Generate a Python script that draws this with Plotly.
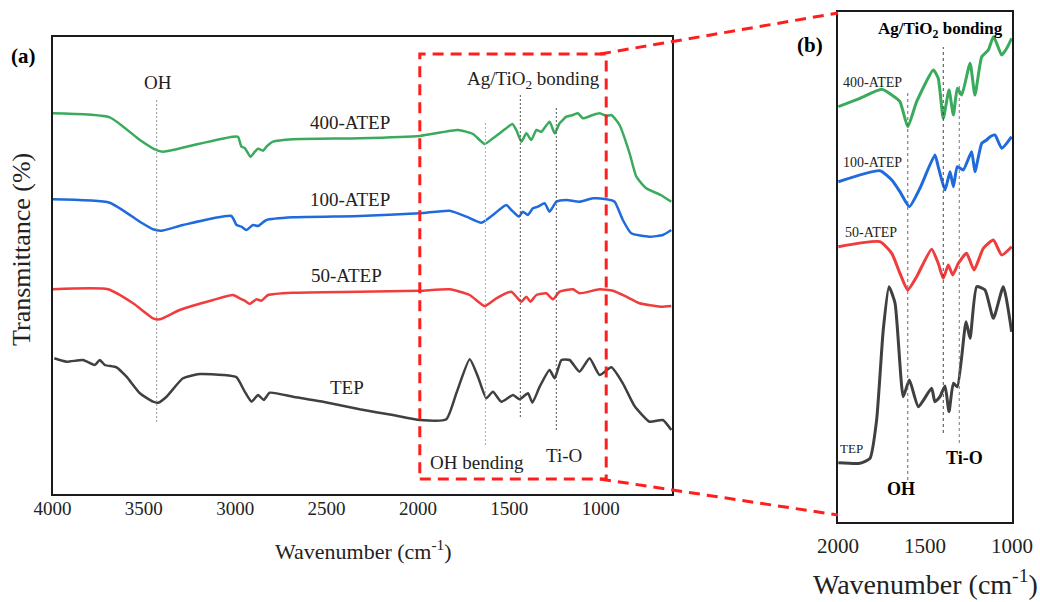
import plotly.graph_objects as go

# ---------------- Panel (a): full spectra (wavenumber, offset transmittance a.u.) -------------
a400_wn = [4000, 3687, 3522, 3440, 3395, 3340, 3267, 3012, 2985, 2966, 2948, 2917, 2893, 2875, 2848,
           2829, 2793, 2684, 2319, 1990, 1781, 1699, 1635, 1590, 1517, 1484, 1462, 1434, 1407, 1380,
           1352, 1325, 1280, 1252, 1225, 1188, 1152, 1125, 1097, 1043, 1006, 969, 942, 897, 842, 805,
           751, 672, 614]
a400_t = [380.7, 376.7, 354, 344.7, 342.3, 344, 347.3, 357.3, 357.3, 347.3, 346, 337.3, 342.3, 345.3,
          343.3, 347.3, 352.3, 354.7, 355.7, 358, 364, 360, 350, 355.7, 365.7, 370, 364, 352.3, 360.7,
          354, 364, 362.3, 372.3, 360.7, 370.7, 377.3, 379, 380.7, 375.7, 379, 380.7, 378, 379, 369,
          340.7, 317.3, 305.7, 299, 292.3]

a100_wn = [4000, 3687, 3522, 3450, 3404, 3286, 3021, 2993, 2966, 2939, 2903, 2875, 2829, 2684, 2319,
           1990, 1826, 1735, 1653, 1590, 1517, 1489, 1448, 1426, 1399, 1371, 1344, 1307, 1280, 1243,
           1188, 1116, 1043, 969, 924, 879, 833, 733, 660, 614]
a100_t = [294.7, 291.3, 272.3, 264.7, 263.3, 269, 278, 269, 267.3, 264, 269, 268, 274, 276.7, 278,
          280.7, 283.3, 277.3, 271.3, 279, 289, 284, 277.3, 282.3, 279, 285.7, 287.3, 290.7, 282.3,
          292.3, 294, 292.3, 295.7, 294.7, 292.3, 274, 260.7, 257.3, 259, 264]

a50_wn = [4000, 3696, 3559, 3450, 3413, 3304, 3121, 3012, 2975, 2948, 2921, 2884, 2857, 2820, 2684,
          2319, 1990, 1826, 1717, 1635, 1571, 1489, 1462, 1434, 1407, 1385, 1352, 1298, 1261, 1225,
          1152, 1116, 1006, 933, 860, 788, 672, 614]
a50_t = [204.7, 204.7, 190.7, 175.7, 174.7, 184, 194, 199, 195.7, 193.3, 190, 194.7, 193.3, 199,
         201.3, 202.3, 203.3, 204.7, 199, 188, 195.7, 202.3, 197.3, 192.3, 197.3, 192.3, 199, 200.7,
         194.7, 202.3, 204.7, 200.7, 204.7, 203.3, 197.3, 190.7, 187.3, 188]

atep_wn = [3990, 3923, 3833, 3769, 3741, 3714, 3650, 3595, 3522, 3450, 3422, 3376, 3286, 3194, 3067,
           2993, 2948, 2911, 2875, 2844, 2811, 2684, 2520, 2319, 2137, 1990, 1845, 1790, 1717, 1672,
           1626, 1590, 1544, 1480, 1444, 1398, 1374, 1334, 1280, 1252, 1215, 1170, 1116, 1061, 1006,
           942, 879, 815, 733, 660, 614]
atep_t = [135.7, 132.3, 134, 129, 134, 129, 126.7, 117.3, 100.7, 92.3, 91.3, 97.3, 115.7, 120, 119,
          116.7, 102.3, 92.3, 99, 94, 101.3, 97.3, 92.3, 84.7, 79, 74, 74.7, 100.7, 134.7, 117.3,
          95.7, 102.3, 92.3, 99, 94.7, 100.7, 91.3, 107.3, 124, 115.7, 134, 134, 122.3, 135.7, 119,
          126.7, 110.7, 88, 72.3, 74, 64]

# ---------------- Panel (b): zoom 2000-1000 cm-1 -------------
b400_wn = [1998, 1874, 1749, 1691, 1644, 1599, 1548, 1452, 1424, 1395, 1362, 1337, 1314, 1289, 1241,
           1213, 1174, 1136, 1107, 1088, 1059, 1030, 1002]
b400_t = [415.3, 423.7, 432.7, 427, 420.3, 395.3, 420.3, 452, 443.7, 403.7, 432, 407, 433.7, 427,
          458.7, 427, 465.3, 472, 485.3, 478.7, 467, 473.7, 483.7]

b100_wn = [1998, 1759, 1691, 1644, 1590, 1529, 1443, 1424, 1385, 1356, 1337, 1314, 1280, 1232, 1213,
           1174, 1146, 1126, 1098, 1059, 1002]
b100_t = [340.3, 351.3, 342, 330.3, 315.3, 333.7, 367, 355.3, 332, 350.3, 335.3, 355.3, 352, 370.3,
          350.3, 378.7, 382, 385.3, 387, 373.7, 385.3]

b50_wn = [1998, 1759, 1691, 1644, 1599, 1548, 1462, 1424, 1395, 1366, 1341, 1308, 1261, 1218, 1165,
          1107, 1059, 1002]
b50_t = [275.3, 280.3, 268.7, 248.7, 232, 245.3, 272.7, 258.7, 243.7, 257, 247, 258.7, 268.7, 252,
         273.7, 282, 267, 275.3]

btep_wn = [1998, 1874, 1816, 1778, 1740, 1707, 1672, 1625, 1590, 1538, 1462, 1443, 1414, 1385, 1362,
           1337, 1314, 1264, 1241, 1203, 1155, 1107, 1050, 1002]
btep_t = [59.3, 58.7, 63.7, 102, 192, 235.3, 218.7, 125.3, 142, 115.3, 133.7, 120.3, 125.3, 136,
          110.3, 138.7, 135.3, 200.3, 183.7, 235.3, 232, 203.7, 235.3, 190.3]

# band positions (cm-1)
bands_a = [3430, 1631, 1440, 1243]
bands_b = [1599, 1395, 1303]
tick_a = [4000, 3500, 3000, 2500, 2000, 1500, 1000]
tick_b = [2000, 1500, 1000]

# ---------------- styling -------------
FONT = "Liberation Serif"
GREEN, BLUE, RED, BLACK = "#3AAA5C", "#1F6BDB", "#F03C3C", "#404040"
W, H = 1040, 602


def px(x):
    return x / W


def py(y):
    return 1 - y / H


fig = go.Figure()
series_a = [(a400_wn, a400_t, GREEN), (a100_wn, a100_t, BLUE), (a50_wn, a50_t, RED), (atep_wn, atep_t, BLACK)]
for wn, t, c in series_a:
    fig.add_trace(go.Scatter(x=wn, y=t, mode="lines", xaxis="x", yaxis="y",
                             line=dict(color=c, width=2.5, shape="spline", smoothing=0.5),
                             showlegend=False, hoverinfo="skip"))
series_b = [(b400_wn, b400_t, GREEN), (b100_wn, b100_t, BLUE), (b50_wn, b50_t, RED), (btep_wn, btep_t, BLACK)]
for wn, t, c in series_b:
    fig.add_trace(go.Scatter(x=wn, y=t, mode="lines", xaxis="x2", yaxis="y2",
                             line=dict(color=c, width=3, shape="spline", smoothing=0.5),
                             showlegend=False, hoverinfo="skip"))

shapes = []
# band guide lines (a)
guide_a = [(72, 396, "#999999"), (49, 372, "#aaaaaa"), (77, 400, "#555555"), (64, 387, "#555555")]
for b, (y0, y1, col) in zip(bands_a, guide_a):
    shapes.append(dict(type="line", xref="x", yref="y", x0=b, x1=b, y0=y0, y1=y1,
                       line=dict(color=col, width=1, dash="2px,2px")))
guide_b = [(42, 430, "#666666"), (89, 475, "#444444"), (79, 439, "#777777")]
for b, (y0, y1, col) in zip(bands_b, guide_b):
    shapes.append(dict(type="line", xref="x2", yref="y2", x0=b, x1=b, y0=y0, y1=y1,
                       line=dict(color=col, width=1, dash="3px,3px")))

# red dashed zoom box and connectors
RED_BOX = "#FF1E1E"
shapes.append(dict(type="rect", xref="x", yref="y", x0=1990, x1=970, y0=15, y1=440,
                   line=dict(color=RED_BOX, width=3, dash="11px,7px")))
shapes.append(dict(type="line", xref="paper", yref="paper", x0=px(600), y0=py(54), x1=px(838), y1=py(13),
                   line=dict(color=RED_BOX, width=3, dash="11px,7px")))
shapes.append(dict(type="line", xref="paper", yref="paper", x0=px(600), y0=py(479), x1=px(838), y1=py(515),
                   line=dict(color=RED_BOX, width=3, dash="11px,7px")))

ann = []


def add_text(text, x, y, size, bold=False, angle=0, color="#222222"):
    if bold:
        text = "<b>" + text + "</b>"
    ann.append(dict(text=text, x=px(x), y=py(y), xref="paper", yref="paper", showarrow=False,
                    xanchor="center", yanchor="middle", textangle=angle,
                    font=dict(family=FONT, size=size, color=color)))


add_text("(a)", 23, 56, 21, bold=True, color="#000000")
add_text("(b)", 810, 45, 21, bold=True, color="#000000")
add_text("Transmittance (%)", 22, 250, 26, angle=-90)
add_text("Wavenumber (cm<sup>-1</sup>)", 363, 550, 22)
add_text("Wavenumber (cm<sup>-1</sup>)", 925, 582, 28)
# panel (a) labels
add_text("OH", 158, 82, 19)
add_text("400-ATEP", 350, 122, 19)
add_text("100-ATEP", 350, 200, 19)
add_text("50-ATEP", 346, 275, 19)
add_text("TEP", 347, 387, 19)
add_text("Ag/TiO<sub>2</sub> bonding", 533, 80, 19)
add_text("OH bending", 477, 462, 19)
add_text("Ti-O", 564, 455, 19)
# panel (b) labels
add_text("Ag/TiO<sub>2</sub> bonding", 940, 30, 17, bold=True, color="#000000")
add_text("400-ATEP", 872, 82, 14)
add_text("100-ATEP", 872, 162, 14)
add_text("50-ATEP", 871, 232, 14)
add_text("TEP", 851, 448, 13)
add_text("OH", 901, 489, 18, bold=True, color="#000000")
add_text("Ti-O", 964, 458, 18, bold=True, color="#000000")

axis_common = dict(showgrid=False, zeroline=False, showline=True, mirror=True,
                   linecolor="#1a1a1a", linewidth=2, automargin=False)

fig.update_layout(
    width=W, height=H, margin=dict(l=0, r=0, t=0, b=0, pad=0, autoexpand=False),
    paper_bgcolor="white", plot_bgcolor="white",
    font=dict(family=FONT, color="#222222"),
    xaxis=dict(domain=[px(52.5), px(672)], range=[4000, 610], tickvals=tick_a,
               ticks="", ticklabelstandoff=-4,
               tickfont=dict(family=FONT, size=19, color="#222222"), anchor="y", **axis_common),
    yaxis=dict(domain=[py(494), py(37)], range=[0, 457], showticklabels=False, ticks="",
               anchor="x", **axis_common),
    xaxis2=dict(domain=[px(838), px(1012)], range=[2000, 1000], tickvals=tick_b,
                ticks="outside", ticklen=4, tickcolor="rgba(0,0,0,0)",
                tickfont=dict(family=FONT, size=21, color="#222222"), anchor="y2", **axis_common),
    yaxis2=dict(domain=[py(522), py(12)], range=[0, 510], showticklabels=False, ticks="",
                anchor="x2", **axis_common),
    shapes=shapes, annotations=ann,
)

fig.write_html("out.html")
